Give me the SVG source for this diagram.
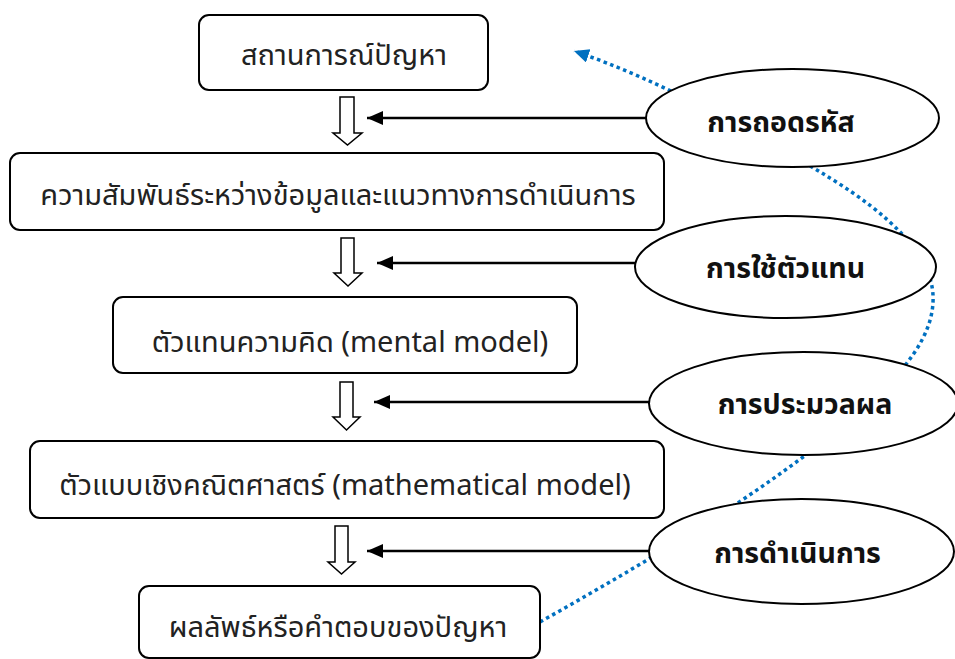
<svg xmlns="http://www.w3.org/2000/svg" width="955" height="659" viewBox="0 0 955 659">
<style>
.box{fill:#fff;stroke:#000;stroke-width:2}
.ell{fill:#fff;stroke:#000;stroke-width:2}
.t{font-family:"Noto Sans Thai","Noto Sans","DejaVu Sans",sans-serif;font-size:29px;fill:#222;text-anchor:middle}
.tb{font-family:"Noto Sans Thai","Noto Sans","DejaVu Sans",sans-serif;font-size:28.5px;font-weight:bold;fill:#111;text-anchor:middle}
.blk{fill:#fff;stroke:#000;stroke-width:1.5;stroke-linejoin:miter}
.con{stroke:#000;stroke-width:2.5;fill:none}
.dot{stroke:#0070C0;stroke-width:3.5;stroke-dasharray:3.5 3.5;fill:none}
</style>
<defs>
<marker id="ah" markerUnits="userSpaceOnUse" markerWidth="18" markerHeight="16" refX="16" refY="7" orient="auto">
<path d="M0,0 L16,7 L0,14 Z" fill="#000"/>
</marker>
<marker id="bh" markerUnits="userSpaceOnUse" markerWidth="18" markerHeight="16" refX="15" refY="7" orient="auto">
<path d="M0,0 L15,7 L0,14 Z" fill="#0070C0"/>
</marker>
</defs>
<g id="cycle">
<path class="dot" d="M540,622 C650,560 760,495 850,420 C905,373 935,335 933,295 C931,255 890,215 830,178 C760,135 660,80 574,51" marker-end="url(#bh)"/>
</g>
<g id="box1"><rect class="box" x="199" y="15" width="289" height="75" rx="10"/><text class="t" x="344" y="65">สถานการณ์ปัญหา</text></g>
<g id="box2"><rect class="box" x="10" y="153" width="654" height="77" rx="10"/><text class="t" x="338" y="205">ความสัมพันธ์ระหว่างข้อมูลและแนวทางการดำเนินการ</text></g>
<g id="box3"><rect class="box" x="113" y="297" width="464" height="76" rx="10"/><text class="t" x="350" y="352">ตัวแทนความคิด (mental model)</text></g>
<g id="box4"><rect class="box" x="30" y="441" width="634" height="77" rx="10"/><text class="t" x="345" y="495">ตัวแบบเชิงคณิตศาสตร์ (mathematical model)</text></g>
<g id="box5"><rect class="box" x="139" y="586" width="401" height="72" rx="10"/><text class="t" x="338" y="637">ผลลัพธ์หรือคำตอบของปัญหา</text></g>
<g id="flow">
<path class="blk" d="M340,97 H354 V133 H362 L347.5,145 L333,133 H340 Z"/>
<path class="blk" d="M341,238 H354 V273 H362 L348,286 L334,273 H341 Z"/>
<path class="blk" d="M340,382 H353 V417 H360 L346.5,430 L333,417 H340 Z"/>
<path class="blk" d="M335,526 H348 V562 H355 L341.5,574 L328,562 H335 Z"/>
</g>
<g id="connectors">
<line class="con" x1="646" y1="118" x2="367" y2="118" marker-end="url(#ah)"/>
<line class="con" x1="636" y1="263" x2="377" y2="263" marker-end="url(#ah)"/>
<line class="con" x1="650" y1="402" x2="374" y2="402" marker-end="url(#ah)"/>
<line class="con" x1="650" y1="551" x2="367" y2="551" marker-end="url(#ah)"/>
</g>
<g id="e1"><ellipse class="ell" cx="792.5" cy="118" rx="146.5" ry="49"/><text class="tb" x="781" y="132">การถอดรหัส</text></g>
<g id="e2"><ellipse class="ell" cx="785.5" cy="267" rx="150.5" ry="51"/><text class="tb" x="785.5" y="278">การใช้ตัวแทน</text></g>
<g id="e3"><ellipse class="ell" cx="803.5" cy="403.5" rx="154.5" ry="51.5"/><text class="tb" x="805" y="414">การประมวลผล</text></g>
<g id="e4"><ellipse class="ell" cx="801.5" cy="551.5" rx="152.5" ry="52.5"/><text class="tb" x="797.5" y="563">การดำเนินการ</text></g>
</svg>
